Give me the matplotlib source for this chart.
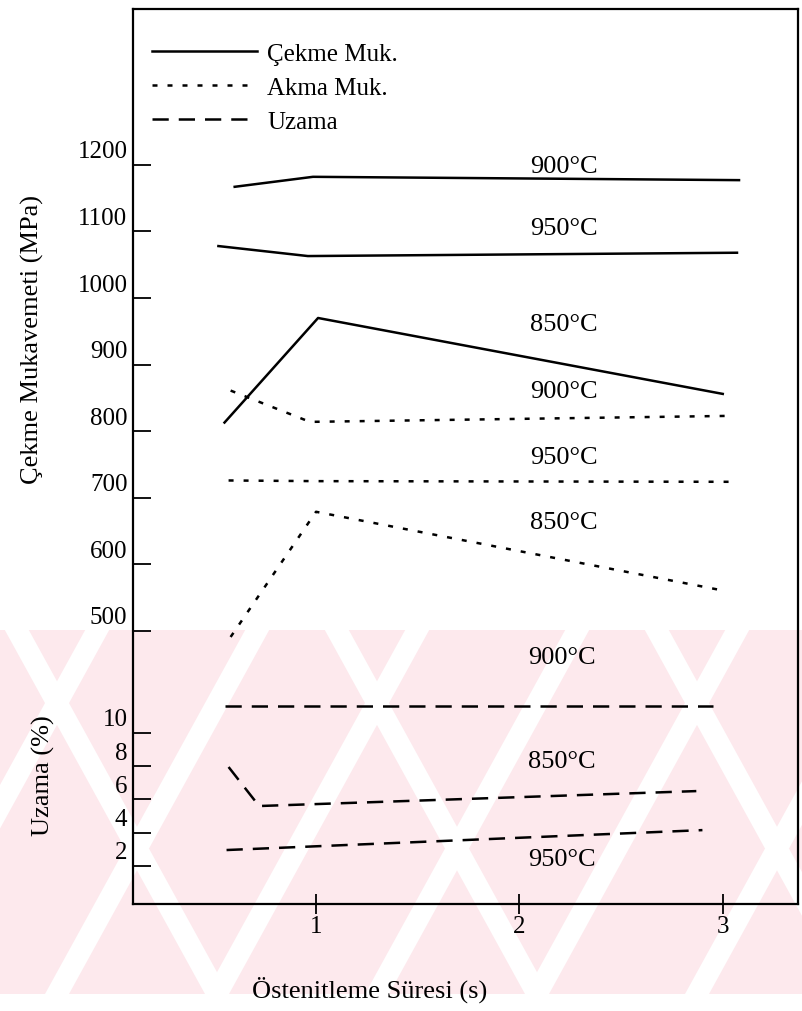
import matplotlib
matplotlib.use('Agg')
import matplotlib.pyplot as plt
import matplotlib.transforms as mtransforms
from matplotlib.patches import Rectangle, Polygon

plt.rcParams['font.family'] = ['Liberation Serif', 'DejaVu Serif']

# Çekme mukavemeti (MPa)
cekme_900_x = [0.60, 0.985, 3.08]
cekme_900_y = [1167, 1182, 1177]
cekme_950_x = [0.52, 0.96, 3.07]
cekme_950_y = [1078, 1063, 1068]
cekme_850_x = [0.55, 1.01, 3.00]
cekme_850_y = [813, 970, 856]

# Akma mukavemeti (MPa)
akma_900_x = [0.58, 0.97, 3.03]
akma_900_y = [861, 814, 823]
akma_950_x = [0.57, 1.0, 3.07]
akma_950_y = [726, 725, 724]
akma_850_x = [0.58, 1.00, 2.98]
akma_850_y = [491, 679, 562]

# Uzama (%)
uzama_900_x = [0.55, 2.95]
uzama_900_y = [11.6, 11.6]
uzama_850_x = [0.57, 0.72, 2.87]
uzama_850_y = [7.95, 5.6, 6.5]
uzama_950_x = [0.56, 2.90]
uzama_950_y = [2.95, 4.15]

mpa_ticks = [500, 600, 700, 800, 900, 1000, 1100, 1200]
uzama_ticks = [2, 4, 6, 8, 10]
x_ticks = [1, 2, 3]

# temperature labels: (x, y, text)
mpa_labels = [(2.22, 1198, '900°C'), (2.22, 1105, '950°C'), (2.22, 961, '850°C'),
              (2.22, 861, '900°C'), (2.22, 762, '950°C'), (2.22, 664, '850°C')]
uzama_labels = [(2.21, 14.6, '900°C'), (2.21, 8.3, '850°C'), (2.21, 2.4, '950°C')]

SOLID = '-'
DOTTED = (0, (2.0, 4.0))
DASHED = (0, (6.5, 4.0))
LW = 1.8
W, H = 803, 1012

fig = plt.figure(figsize=(W / 100, H / 100), dpi=100)

# pink scan watermark behind the lower part (band with white diagonal stripes)
band_top, band_bot = 631, 995
band = Rectangle((0, H - band_bot), W, band_bot - band_top, transform=mtransforms.IdentityTransform(),
                 facecolor='#fde9ed', edgecolor='none', zorder=-10)
fig.patches.append(band)
run = (band_bot - band_top) * 0.55
for k, c in enumerate(range(-435, 1200, 160)):
    for sign in (1, -1):
        if sign == -1 and k % 2:
            continue
        pts = [(c, H - band_bot), (c + 24, H - band_bot),
               (c + 24 + sign * run, H - band_top), (c + sign * run, H - band_top)]
        p = Polygon(pts, closed=True, transform=mtransforms.IdentityTransform(),
                    facecolor='white', edgecolor='none', zorder=-9)
        p.set_clip_path(band)
        fig.patches.append(p)

ax = fig.add_axes([133 / W, 1 - 905 / H, 665 / W, 895 / H])
ax.patch.set_alpha(0)
ax.set_xlim(0.10, 3.37)
ax.set_ylim(90, 1434)

ax.plot(cekme_900_x, cekme_900_y, color='black', lw=LW, ls=SOLID, label='Çekme Muk.')
ax.plot(cekme_950_x, cekme_950_y, color='black', lw=LW, ls=SOLID)
ax.plot(cekme_850_x, cekme_850_y, color='black', lw=LW, ls=SOLID)
ax.plot(akma_900_x, akma_900_y, color='black', lw=LW, ls=DOTTED, label='Akma Muk.')
ax.plot(akma_950_x, akma_950_y, color='black', lw=LW, ls=DOTTED)
ax.plot(akma_850_x, akma_850_y, color='black', lw=LW, ls=DOTTED)

for x, y, t in mpa_labels:
    ax.text(x, y, t, ha='center', va='center', fontsize=19)

# elongation on its own scale, same frame
ax2 = ax.twinx()
ax2.set_ylim(-0.3, 53.6)
l_uz, = ax2.plot(uzama_900_x, uzama_900_y, color='black', lw=LW, ls=DASHED, label='Uzama')
ax2.plot(uzama_850_x, uzama_850_y, color='black', lw=LW, ls=DASHED)
ax2.plot(uzama_950_x, uzama_950_y, color='black', lw=LW, ls=DASHED)
for x, y, t in uzama_labels:
    ax2.text(x, y, t, ha='center', va='center', fontsize=19)

for s in ax2.spines.values():
    s.set_visible(False)
for s in ax.spines.values():
    s.set_linewidth(1.6)

ax.set_xticks(x_ticks)
ax.set_yticks(mpa_ticks)
ax2.set_yticks(uzama_ticks)
ax2.yaxis.set_ticks_position('left')
ax2.yaxis.set_label_position('left')
ax.tick_params(axis='x', direction='inout', length=14, width=1.3, labelsize=18, pad=1)
ax.tick_params(axis='y', direction='in', length=13, width=1.3, labelsize=18, pad=4)
ax2.tick_params(axis='y', direction='in', length=13, width=1.3, labelsize=18, pad=4,
                left=True, labelleft=True, right=False, labelright=False)

# tick labels sit a bit above their ticks in the original
up = mtransforms.ScaledTranslation(0, 16 / 100, fig.dpi_scale_trans)
for lab in ax.get_yticklabels() + ax2.get_yticklabels():
    lab.set_transform(lab.get_transform() + up)

ax.set_ylabel('Çekme Mukavemeti (MPa)', fontsize=19)
ax.yaxis.set_label_coords(-(133 - 44) / 665, (905 - 340) / 895)
ax2.set_ylabel('Uzama (%)', fontsize=19)
ax2.yaxis.set_label_coords(-(133 - 55) / 665, (905 - 776) / 895)
ax.set_xlabel('Östenitleme Süresi (s)', fontsize=19)
ax.xaxis.set_label_coords((370 - 133) / 665, -(977 - 905) / 895)

handles = ax.get_lines()[:1] + [ax.get_lines()[3], l_uz]
ax.legend(handles, [h.get_label() for h in handles], loc='upper left',
          bbox_to_anchor=(0.029, 0.963), frameon=False, fontsize=18,
          handlelength=4.2, handletextpad=0.4, labelspacing=0.47,
          borderpad=0, borderaxespad=0)

fig.savefig('out.png', dpi=100)
